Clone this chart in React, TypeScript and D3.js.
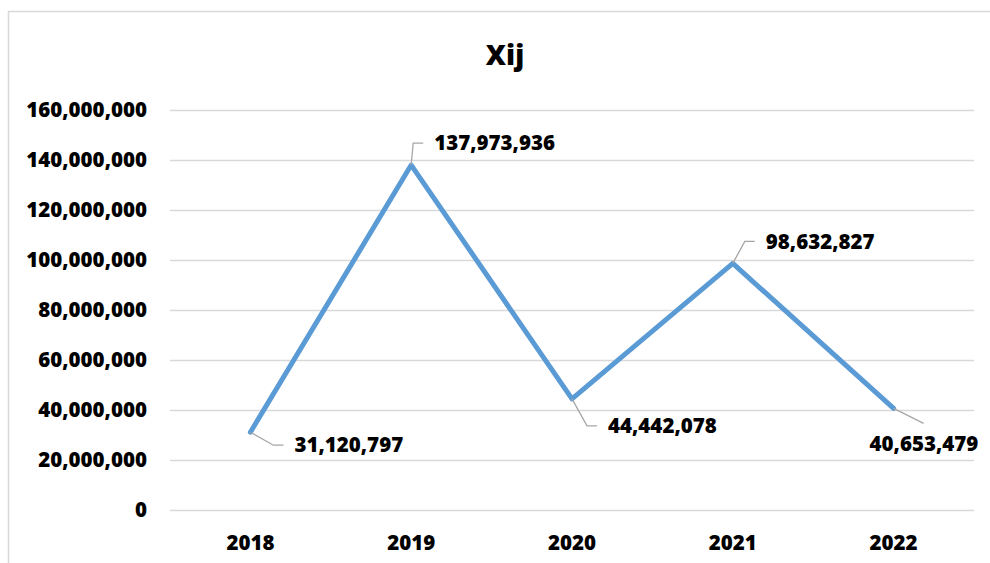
import { useEffect, useRef } from 'react'
import { scaleLinear, scaleBand, select, axisLeft, axisBottom, line, format } from 'd3'

const years = ['2018', '2019', '2020', '2021', '2022']
const values = [31120797, 137973936, 44442078, 98632827, 40653479]
const yTicks = [0, 20000000, 40000000, 60000000, 80000000, 100000000, 120000000, 140000000, 160000000]
// leader line end / label anchor offsets from each point (px)
const labelDx = [23, 2, 15, 12, 30]
const labelDy = [13, -22, 27, -22, 15]

const W = 990
const H = 563
const left = 170
const right = 974
const top = 110
const bottom = 510
const font = '"Open Sans", Lato, sans-serif'

const App = () => {
  const yAxisRef = useRef(null)
  const xAxisRef = useRef(null)

  const x = scaleBand().domain(years).range([left, right])
  const y = scaleLinear().domain([0, 160000000]).range([bottom, top])
  const fmt = format(',')

  const pts = years.map((yr, i) => [x(yr) + x.bandwidth() / 2, y(values[i])])
  const path = line()(pts)

  useEffect(() => {
    const ya = select(yAxisRef.current)
    ya.call(axisLeft(y).tickValues(yTicks).tickFormat(fmt).tickSize(-(right - left)).tickPadding(23))
    ya.select('.domain').remove()
    ya.selectAll('line').attr('stroke', '#d9d9d9').attr('stroke-width', 1.3)
    ya.selectAll('text').attr('font-family', font).attr('font-weight', 800).attr('font-size', 20.5).attr('fill', '#000')

    const xa = select(xAxisRef.current)
    xa.call(axisBottom(x).tickSize(0).tickPadding(25))
    xa.select('.domain').remove()
    xa.selectAll('text').attr('font-family', font).attr('font-weight', 800).attr('font-size', 20.5).attr('fill', '#000')
  })

  return (
    <svg width={W} height={H} style={{ position: 'absolute', left: 0, top: 0, background: '#fff' }}>
      <rect x={8.5} y={11.5} width={W + 20} height={H + 20} fill="#fff" stroke="#d9d9d9" strokeWidth={1.5} />
      <text x={505} y={65} textAnchor="middle" fontFamily={font} fontWeight={800} fontSize={28} fill="#000">Xij</text>
      <g ref={yAxisRef} transform={`translate(${left},0)`} />
      <g ref={xAxisRef} transform={`translate(0,${bottom})`} />
      <path d={path} fill="none" stroke="#5b9bd5" strokeWidth={5} strokeLinejoin="round" strokeLinecap="round" />
      {pts.map((p, i) => {
        const ex = p[0] + labelDx[i]
        const ey = p[1] + labelDy[i]
        const last = i === pts.length - 1
        const d = last
          ? `M${p[0]},${p[1]}L${ex},${ey}`
          : `M${p[0]},${p[1]}L${ex},${ey}L${ex + 10},${ey}`
        return (
          <g key={years[i]}>
            <path d={d} fill="none" stroke="#a6a6a6" strokeWidth={1.3} />
            <text
              x={last ? ex - 54 : ex + 21}
              y={last ? ey + 20 : ey}
              dy="0.35em"
              fontFamily={font}
              fontWeight={800}
              fontSize={20.5}
              fill="#000"
            >
              {fmt(values[i])}
            </text>
          </g>
        )
      })}
    </svg>
  )
}

export default App
